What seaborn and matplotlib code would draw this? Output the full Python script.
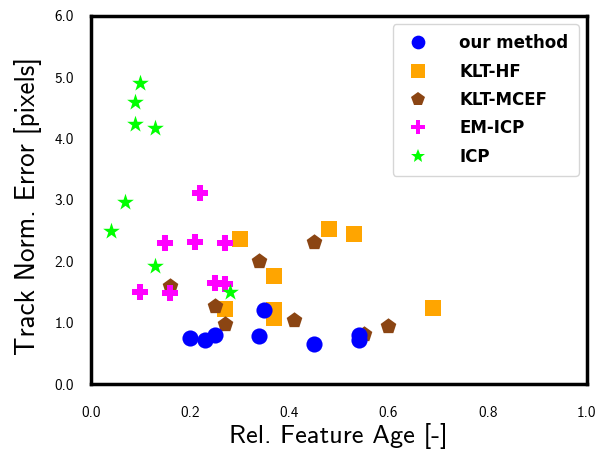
import matplotlib
matplotlib.use("Agg")
import matplotlib.pyplot as plt
from matplotlib.lines import Line2D
import seaborn as sns
import pandas as pd

# Relative feature age vs. track-normalized error per method
our_x = [0.20, 0.23, 0.25, 0.34, 0.35, 0.45, 0.54, 0.54]
our_y = [0.75, 0.71, 0.80, 0.78, 1.21, 0.65, 0.80, 0.72]

klthf_x = [0.30, 0.48, 0.53, 0.37, 0.27, 0.37, 0.37, 0.69]
klthf_y = [2.36, 2.53, 2.44, 1.76, 1.22, 1.20, 1.07, 1.24]

mcef_x = [0.45, 0.34, 0.16, 0.25, 0.27, 0.41, 0.55, 0.60]
mcef_y = [2.31, 2.01, 1.60, 1.27, 0.98, 1.04, 0.81, 0.95]

emicp_x = [0.22, 0.15, 0.21, 0.27, 0.10, 0.16, 0.25, 0.27]
emicp_y = [3.11, 2.30, 2.32, 2.30, 1.50, 1.48, 1.65, 1.63]

icp_x = [0.10, 0.09, 0.09, 0.13, 0.07, 0.04, 0.13, 0.28]
icp_y = [4.91, 4.60, 4.24, 4.17, 2.97, 2.49, 1.92, 1.50]

methods = ["our method", "KLT-HF", "KLT-MCEF", "EM-ICP", "ICP"]
colors = {"our method": "#0000ff", "KLT-HF": "#ffa500", "KLT-MCEF": "#8b4513",
          "EM-ICP": "#ff00ff", "ICP": "#00ff00"}
markers = {"our method": "o", "KLT-HF": "s", "KLT-MCEF": "p",
           "EM-ICP": "P", "ICP": "*"}
sizes = {"our method": 135, "KLT-HF": 135, "KLT-MCEF": 140,
         "EM-ICP": 135, "ICP": 160}

# rows in drawing order (later rows are painted on top)
parts = [("KLT-HF", klthf_x, klthf_y), ("KLT-MCEF", mcef_x, mcef_y),
         ("EM-ICP", emicp_x, emicp_y), ("ICP", icp_x, icp_y),
         ("our method", our_x, our_y)]
df = pd.concat([pd.DataFrame({"age": xs, "err": ys, "method": m})
                for m, xs, ys in parts], ignore_index=True)

sns.set_style("white")
plt.rcParams["font.family"] = ["cmss10", "DejaVu Sans"]
plt.rcParams["axes.unicode_minus"] = False
plt.rcParams["axes.formatter.use_mathtext"] = False
plt.rcParams["text.color"] = "black"
plt.rcParams["axes.labelcolor"] = "black"
plt.rcParams["xtick.color"] = "black"
plt.rcParams["ytick.color"] = "black"

fig = plt.figure(figsize=(6.05, 4.55), dpi=100)
ax = fig.add_axes([0.150, 0.156, 0.820, 0.809])

for m, xs, ys in parts:
    sub = df[df["method"] == m]
    sns.scatterplot(data=sub, x="age", y="err", color=colors[m],
                    marker=markers[m], s=sizes[m], linewidth=0,
                    ax=ax, legend=False, zorder=3)

ax.set_xlim(0.0, 1.0)
ax.set_ylim(0.0, 6.0)
ax.set_xticks([0.0, 0.2, 0.4, 0.6, 0.8, 1.0])
ax.set_yticks([0.0, 1.0, 2.0, 3.0, 4.0, 5.0, 6.0])
ax.set_xticklabels(["0.0", "0.2", "0.4", "0.6", "0.8", "1.0"])
ax.set_yticklabels(["0.0", "1.0", "2.0", "3.0", "4.0", "5.0", "6.0"])
ax.tick_params(axis="both", direction="out", length=6, width=2.5,
               labelsize=11, pad=6, color="black", labelcolor="black")
ax.tick_params(axis="x", pad=10)
for sp in ax.spines.values():
    sp.set_linewidth(2.5)
    sp.set_color("black")

ax.set_xlabel("Rel. Feature Age [-]", fontsize=19, labelpad=2, color="black")
ax.set_ylabel("Track Norm. Error [pixels]", fontsize=19.5, color="black")
ax.yaxis.set_label_coords(-0.098, 0.485)

handles = [Line2D([], [], linestyle="none", marker=markers[m],
                  markersize=(sizes[m] ** 0.5) * 0.85,
                  markerfacecolor=colors[m], markeredgewidth=0)
           for m in methods]
leg = ax.legend(handles, methods, loc="upper right", frameon=True,
                prop={"family": "DejaVu Sans", "weight": "bold", "size": 12},
                borderpad=0.6, labelspacing=0.62, handletextpad=1.6,
                handlelength=1.8, borderaxespad=0.5, fancybox=True)
leg.get_frame().set_edgecolor("#cccccc")
leg.get_frame().set_linewidth(1.0)
for t in leg.get_texts():
    t.set_color("black")

fig.savefig("out.png", dpi=100)
